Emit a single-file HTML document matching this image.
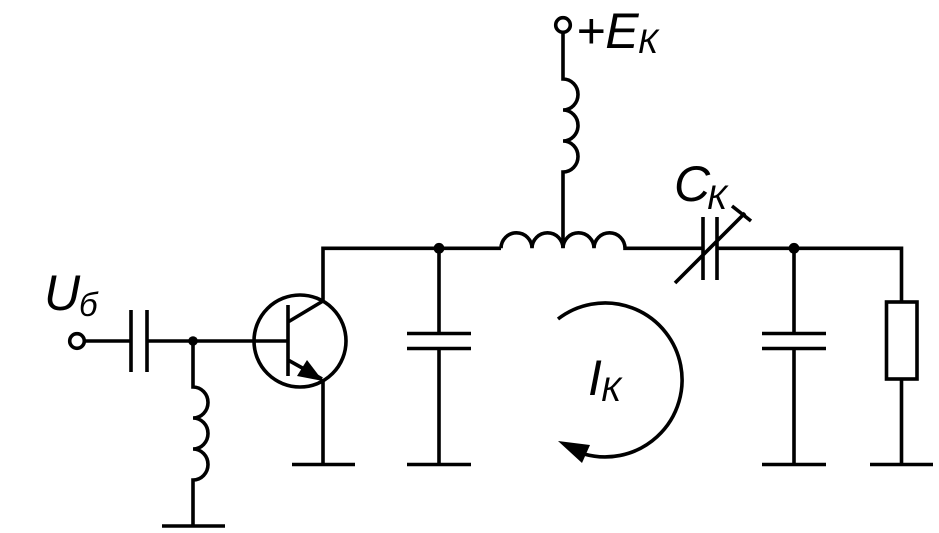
<!DOCTYPE html>
<html>
<head>
<meta charset="utf-8">
<style>
html,body{margin:0;padding:0;background:#fff;}
svg{display:block;}
text{font-family:"Liberation Sans",sans-serif;font-style:italic;fill:#000;}
</style>
</head>
<body>
<svg width="939" height="533" viewBox="0 0 939 533" xmlns="http://www.w3.org/2000/svg">
<g fill="none" stroke="#000" stroke-width="3.6">
  <!-- top supply -->
  <circle cx="563" cy="25" r="7.3"/>
  <path d="M563 32V79A15 15.5 0 0 1 563 110A15 15.5 0 0 1 563 141A15 15.5 0 0 1 563 172V248"/>
  <!-- main wire and tapped inductor -->
  <path d="M323 301V248.300H501"/>
  <path d="M501 248.300A15.500 15.500 0 0 1 532 248.300A15.500 15.500 0 0 1 563 248.300A15.500 15.500 0 0 1 594 248.300A15.500 15.500 0 0 1 625 248.300H702"/>
  <path d="M717 248.300H901.500V302"/>
  <!-- variable capacitor -->
  <path d="M703 217V280M717 217V280M675 283L745 213M732 206L751 221"/>
  <!-- input -->
  <circle cx="77" cy="341" r="7.3"/>
  <path d="M84 341H131M147 341H288"/>
  <path d="M131 310V372M147 310V372"/>
  <!-- base inductor -->
  <path d="M193 341V387A15 15.500 0 0 1 193 418A15 15.500 0 0 1 193 449A15 15.500 0 0 1 193 480V526M162 526H225"/>
  <!-- transistor -->
  <circle cx="300" cy="341" r="46"/>
  <path d="M288 305V376M288 322L323 301M288 360L322 379M323 379V464.500M292 464.500H355"/>
  <!-- left tank capacitor -->
  <path d="M439 248V333.500M407 333.500H471M407 348.500H471M439 348.500V464.500M407 464.500H471"/>
  <!-- right capacitor -->
  <path d="M794 248V333.500M762 333.500H826M762 348.500H826M794 348.500V464.500M762 464.500H826"/>
  <!-- load -->
  <rect x="886.500" y="302" width="30.500" height="77"/>
  <path d="M901.500 379V464.500M870 464.500H933"/>
  <!-- loop current -->
  <path d="M558 319A77 77 0 1 1 584 454"/>
</g>
<g fill="#000" stroke="none">
  <circle cx="439" cy="248.300" r="5.400"/>
  <circle cx="794" cy="248.300" r="5.400"/>
  <circle cx="193" cy="341" r="4.800"/>
  <polygon points="323,381 297,376 307,360"/>
  <polygon points="558,441 590,445 582,463"/>
</g>
<text x="576" y="48" font-size="50">+E</text>
<text x="638" y="53" font-size="34">К</text>
<text x="674" y="201" font-size="50">C</text>
<text x="707" y="209" font-size="34">К</text>
<text x="44" y="310" font-size="50">U</text>
<text x="79" y="316" font-size="33">б</text>
<text x="588" y="395" font-size="50">I</text>
<text x="601" y="401" font-size="34">К</text>
</svg>
</body>
</html>
